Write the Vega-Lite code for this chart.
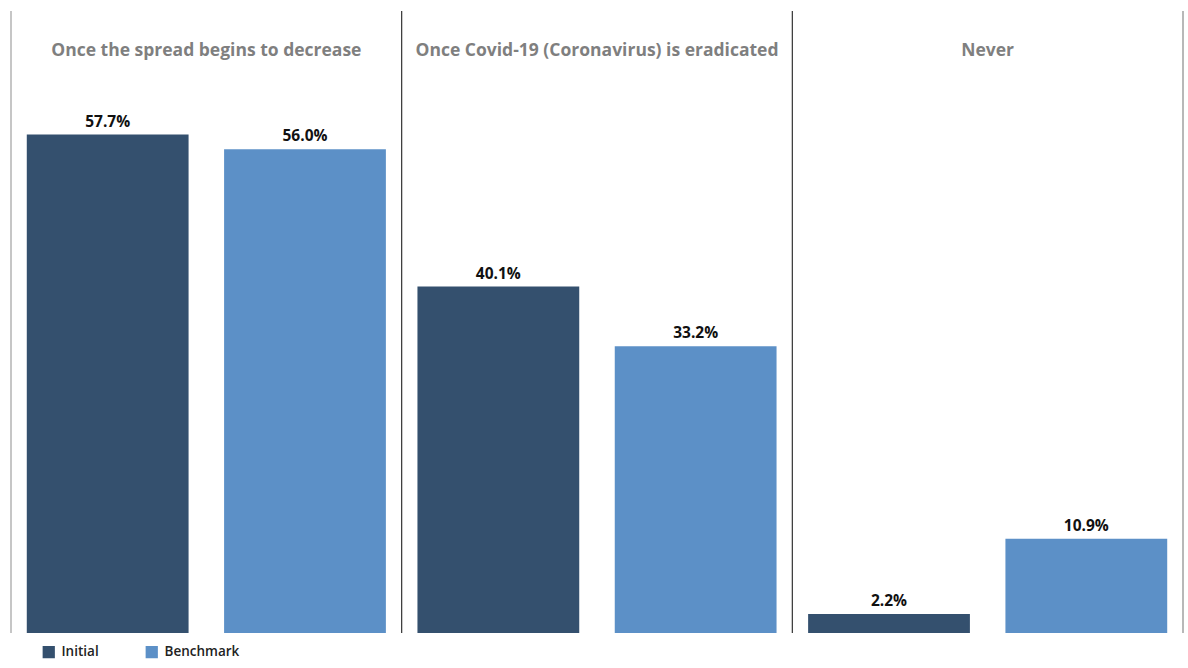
{
  "$schema": "https://vega.github.io/schema/vega-lite/v6.json",
  "width": 1172,
  "height": 622,
  "padding": {"left": 10, "top": 10, "right": 6, "bottom": 0},
  "autosize": {"type": "pad"},
  "config": {"view": {"stroke": null}, "font": "Open Sans"},
  "datasets": {
    "bars": [
      {"category": "Once the spread begins to decrease", "series": "Initial", "value": 57.7},
      {"category": "Once the spread begins to decrease", "series": "Benchmark", "value": 56.0},
      {"category": "Once Covid-19 (Coronavirus) is eradicated", "series": "Initial", "value": 40.1},
      {"category": "Once Covid-19 (Coronavirus) is eradicated", "series": "Benchmark", "value": 33.2},
      {"category": "Never", "series": "Initial", "value": 2.2},
      {"category": "Never", "series": "Benchmark", "value": 10.9}
    ],
    "seps": [
      {"category": "Once the spread begins to decrease", "edge": "start"},
      {"category": "Once Covid-19 (Coronavirus) is eradicated", "edge": "start"},
      {"category": "Never", "edge": "start"},
      {"category": "Never", "edge": "end"}
    ]
  },
  "encoding": {
    "x": {
      "field": "category",
      "type": "nominal",
      "sort": null,
      "scale": {"paddingInner": 0, "paddingOuter": 0, "domain": ["Once the spread begins to decrease", "Once Covid-19 (Coronavirus) is eradicated", "Never"]},
      "axis": {
        "orient": "top",
        "title": null,
        "domain": false,
        "ticks": false,
        "tickSize": 0,
        "labelAngle": 0,
        "labelPadding": -48,
        "labelFontSize": 17.5,
        "labelFontWeight": "bold",
        "labelColor": "#7f7f7f",
        "labelLimit": 400
      }
    },
    "y": {"field": "value", "type": "quantitative", "scale": {"domain": [0, 72], "nice": false, "zero": true}, "axis": null}
  },
  "layer": [
    {
      "data": {"name": "bars"},
      "mark": {"type": "bar"},
      "encoding": {
        "xOffset": {"field": "series", "type": "nominal", "sort": ["Initial", "Benchmark"], "scale": {"paddingInner": 0.18, "paddingOuter": 0.08}},
        "color": {
          "field": "series",
          "type": "nominal",
          "sort": ["Initial", "Benchmark"],
          "scale": {"domain": ["Initial", "Benchmark"], "range": ["#34506e", "#5c90c7"]},
          "legend": {
            "title": null,
            "orient": "none",
            "legendX": 31,
            "legendY": 634,
            "direction": "horizontal",
            "symbolType": "square",
            "symbolSize": 150,
            "symbolStrokeWidth": 0,
            "labelFontSize": 13.5,
            "labelFontWeight": 600,
            "labelColor": "#222222",
            "columnPadding": 46,
            "labelOffset": 6
          }
        }
      }
    },
    {
      "data": {"name": "bars"},
      "transform": [{"calculate": "format(datum.value, '.1f') + '%'", "as": "label"}],
      "mark": {"type": "text", "baseline": "bottom", "dy": -5, "fontSize": 15.5, "fontWeight": "bold", "color": "#111111"},
      "encoding": {
        "xOffset": {"field": "series", "type": "nominal", "sort": ["Initial", "Benchmark"], "scale": {"paddingInner": 0.18, "paddingOuter": 0.08}},
        "text": {"field": "label", "type": "nominal"}
      }
    },
    {
      "data": {"name": "seps"},
      "transform": [{"filter": "datum.edge === 'start'"}],
      "mark": {"type": "rule", "strokeWidth": 1.2},
      "encoding": {
        "x": {"field": "category", "type": "nominal", "sort": null, "bandPosition": 0},
        "y": null,
        "color": {"condition": {"test": "datum.category === 'Once the spread begins to decrease'", "value": "#a0a0a0"}, "value": "#333333"}
      }
    },
    {
      "data": {"name": "seps"},
      "transform": [{"filter": "datum.edge === 'end'"}],
      "mark": {"type": "rule", "strokeWidth": 1.5},
      "encoding": {
        "x": {"field": "category", "type": "nominal", "sort": null, "bandPosition": 1},
        "y": null,
        "color": {"value": "#a0a0a0"}
      }
    }
  ]
}
